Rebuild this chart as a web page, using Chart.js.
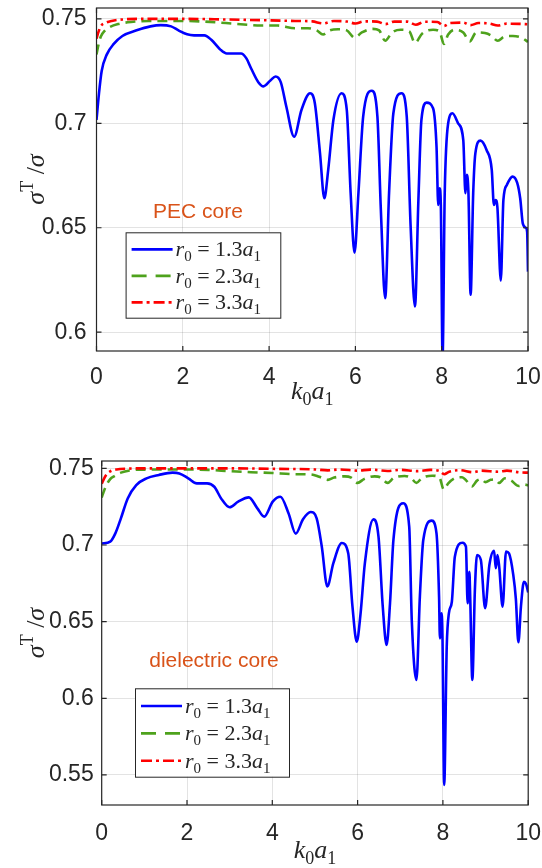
<!DOCTYPE html>
<html>
<head>
<meta charset="utf-8">
<script src="https://cdn.jsdelivr.net/npm/chart.js@4.4.1/dist/chart.umd.min.js"></script>
<style>
  body { margin: 0; background: #fff; }
  #wrap { position: relative; width: 542px; height: 868px; }
  canvas { position: absolute; left: 0; }
</style>
</head>
<body>
<div id="wrap">
  <canvas id="topChart" width="542" height="430" style="top:0;width:542px;height:430px"></canvas>
  <canvas id="bottomChart" width="542" height="438" style="top:430px;width:542px;height:438px"></canvas>
</div>
<script>
// tick values
const xTicks = [0, 2, 4, 6, 8, 10];
const topYTicks = [0.6, 0.65, 0.7, 0.75];
const bottomYTicks = [0.55, 0.6, 0.65, 0.7, 0.75];

// series names (r0 in units of a1) and panel notes
const radii = ['1.3', '2.3', '3.3'];
const seriesLabels = radii.map(r => 'r0 = ' + r + 'a1');
const panelNotes = ['PEC core', 'dielectric core'];

// [k0*a1, sigmaT/sigma] -- PEC core
const pecR13 = [[0,0.7016],[0.056,0.714],[0.12,0.725],[0.24,0.733],[0.4,0.738],[0.6,0.7418],[0.93,0.7445],
  [1.25,0.7464],[1.49,0.747],[1.73,0.7464],[1.9,0.7445],[2.1,0.7426],[2.26,0.7421],[2.5,0.7421],[2.66,0.740],
  [2.86,0.7355],[3.02,0.7334],[3.35,0.7334],[3.47,0.7312],[3.59,0.726],[3.75,0.7197],[3.87,0.7177],[4.03,0.7205],
  [4.15,0.7224],[4.27,0.7197],[4.4,0.7079],[4.58,0.6936],[4.75,0.7064],[4.95,0.7144],[5.06,0.7096],[5.18,0.6856],
  [5.28,0.6641],[5.37,0.6777],[5.49,0.7016],[5.68,0.7144],[5.8,0.7064],[5.89,0.6665],[5.98,0.6381],[6.07,0.6665],
  [6.18,0.7032],[6.38,0.7156],[6.51,0.7032],[6.59,0.6585],[6.69,0.6163],[6.78,0.6665],[6.88,0.7048],[7.07,0.7144],
  [7.19,0.7032],[7.28,0.6506],[7.38,0.6123],[7.46,0.6633],[7.53,0.7016],[7.65,0.7099],[7.8,0.7072],[7.88,0.6888],
  [7.92,0.6609],[7.95,0.6689],[7.98,0.6609],[8.02,0.588],[8.07,0.6665],[8.15,0.70],[8.25,0.7048],[8.38,0.70],
  [8.5,0.692],[8.55,0.6665],[8.58,0.6753],[8.62,0.6665],[8.67,0.6179],[8.73,0.6665],[8.78,0.6856],[8.9,0.6917],
  [9.04,0.6872],[9.16,0.6777],[9.21,0.6609],[9.25,0.6633],[9.29,0.660],[9.37,0.6247],[9.43,0.6633],[9.51,0.6705],
  [9.64,0.6745],[9.75,0.6715],[9.82,0.664],[9.88,0.652],[9.95,0.650],[9.98,0.648],[10,0.629]];
const pecR23 = [[0,0.733],[0.05,0.738],[0.1,0.7415],[0.2,0.7445],[0.3,0.746],[0.5,0.7475],[0.8,0.7485],[1.2,0.749],
  [2.0,0.749],[2.5,0.7487],[3.0,0.748],[3.5,0.7472],[3.8,0.7468],[4.2,0.7468],[4.6,0.7455],[4.9,0.7455],[5.1,0.7445],
  [5.25,0.7425],[5.4,0.7445],[5.6,0.745],[5.8,0.7445],[5.98,0.741],[6.15,0.7435],[6.4,0.7452],[6.55,0.7445],
  [6.69,0.7395],[6.85,0.7435],[7.05,0.7448],[7.25,0.744],[7.38,0.7385],[7.55,0.743],[7.8,0.7448],[7.95,0.744],
  [8.05,0.738],[8.15,0.7425],[8.3,0.7448],[8.5,0.7435],[8.65,0.7392],[8.8,0.7435],[9.0,0.7432],[9.15,0.742],
  [9.3,0.7395],[9.45,0.7415],[9.65,0.7418],[9.85,0.741],[10,0.739]];
const pecR33 = [[0,0.7405],[0.05,0.744],[0.1,0.7465],[0.2,0.748],[0.35,0.749],[0.6,0.7497],[1,0.75],[2,0.75],
  [3,0.7497],[4,0.7493],[4.6,0.749],[5.0,0.7488],[5.25,0.7478],[5.5,0.749],[5.8,0.7487],[6.0,0.7478],[6.2,0.7488],
  [6.5,0.7487],[6.7,0.7475],[6.9,0.7487],[7.2,0.7487],[7.4,0.7472],[7.6,0.7486],[7.9,0.7485],[8.05,0.7466],
  [8.2,0.748],[8.5,0.7482],[8.67,0.747],[8.85,0.748],[9.1,0.7478],[9.3,0.7468],[9.5,0.7477],[9.8,0.7476],[10,0.7474]];

// dielectric core
const dieR13 = [[0,0.701],[0.2,0.7022],[0.32,0.7076],[0.45,0.7174],[0.61,0.7304],[0.81,0.7391],[1.05,0.7435],
  [1.34,0.7457],[1.66,0.7472],[1.82,0.7467],[2.03,0.7435],[2.23,0.7402],[2.47,0.7402],[2.64,0.738],[2.8,0.7304],
  [3.0,0.7246],[3.2,0.7283],[3.45,0.7311],[3.65,0.7239],[3.81,0.7185],[4.01,0.7283],[4.19,0.7315],[4.38,0.7207],
  [4.55,0.7074],[4.72,0.7168],[4.9,0.7215],[5.04,0.7174],[5.16,0.699],[5.29,0.673],[5.43,0.688],[5.63,0.7013],
  [5.78,0.6946],[5.88,0.6598],[5.98,0.637],[6.07,0.6554],[6.17,0.688],[6.37,0.7167],[6.49,0.7054],[6.59,0.6598],
  [6.68,0.6348],[6.76,0.662],[6.84,0.7033],[7.07,0.7272],[7.21,0.712],[7.27,0.6511],[7.38,0.612],[7.46,0.6663],
  [7.54,0.7033],[7.74,0.7159],[7.85,0.7076],[7.91,0.6663],[7.93,0.6391],[7.97,0.6554],[7.99,0.6402],[8.03,0.5435],
  [8.09,0.6337],[8.14,0.6554],[8.21,0.663],[8.28,0.6924],[8.46,0.7015],[8.54,0.699],[8.58,0.662],[8.62,0.6826],
  [8.64,0.6663],[8.69,0.612],[8.75,0.6707],[8.8,0.6935],[8.89,0.6902],[8.99,0.6587],[9.09,0.687],[9.2,0.6963],
  [9.24,0.6848],[9.28,0.6935],[9.32,0.6859],[9.4,0.6598],[9.48,0.6957],[9.55,0.6945],[9.65,0.6805],[9.71,0.665],
  [9.77,0.6366],[9.83,0.66],[9.9,0.676],[9.95,0.6745],[10,0.669]];
const dieR23 = [[0,0.731],[0.05,0.735],[0.1,0.7385],[0.2,0.743],[0.3,0.745],[0.45,0.7472],[0.7,0.7488],[1.0,0.7492],
  [2.0,0.7493],[2.5,0.749],[3.0,0.7482],[3.5,0.7475],[4.0,0.747],[4.5,0.7462],[4.9,0.746],[5.1,0.7445],[5.3,0.7425],
  [5.45,0.744],[5.7,0.7448],[5.85,0.744],[6.0,0.7405],[6.15,0.743],[6.4,0.7448],[6.55,0.744],[6.7,0.7405],
  [6.85,0.7438],[7.1,0.745],[7.25,0.7438],[7.38,0.7405],[7.5,0.7435],[7.75,0.7452],[7.92,0.744],[8.02,0.7362],
  [8.12,0.740],[8.3,0.7438],[8.45,0.7442],[8.55,0.742],[8.68,0.7382],[8.8,0.742],[8.9,0.743],[9.0,0.741],
  [9.12,0.7425],[9.22,0.7428],[9.32,0.7405],[9.45,0.7435],[9.6,0.742],[9.78,0.7385],[9.9,0.7395],[10,0.739]];
const dieR33 = [[0,0.74],[0.05,0.743],[0.1,0.7455],[0.2,0.748],[0.35,0.7493],[0.6,0.7498],[1,0.75],[3,0.75],
  [4,0.7497],[5,0.7493],[5.3,0.7487],[5.6,0.7493],[6.0,0.7485],[6.3,0.7492],[6.7,0.7483],[7.0,0.749],[7.4,0.7482],
  [7.7,0.749],[7.9,0.7485],[8.03,0.7462],[8.15,0.7478],[8.4,0.7488],[8.7,0.7475],[8.9,0.7485],[9.3,0.7478],
  [9.5,0.7485],[9.8,0.7474],[10,0.7472]];

const AXIS = '#262626';
const SERIF = '"Liberation Serif", "DejaVu Serif", serif';

// draws a string made of pieces: 'i' italic, 'n' upright, 'b' subscript, 'p' superscript
function drawRich(ctx, parts, x, y, size, align) {
  const fontOf = k => (k === 'i' ? 'italic ' : '') + ((k === 'b' || k === 'p') ? Math.round(size * 0.7) : size) + 'px ' + SERIF;
  let w = 0;
  parts.forEach(([t, k]) => { ctx.font = fontOf(k); w += ctx.measureText(t).width; });
  let cx = align === 'center' ? x - w / 2 : x;
  ctx.textAlign = 'left';
  ctx.textBaseline = 'alphabetic';
  parts.forEach(([t, k]) => {
    ctx.font = fontOf(k);
    const dy = k === 'b' ? size * 0.22 : (k === 'p' ? -size * 0.42 : 0);
    ctx.fillText(t, cx, y + dy);
    cx += ctx.measureText(t).width;
  });
}

function series(pairs) {
  return pairs.map(p => ({ x: p[0], y: p[1] }));
}

function makeChart(id, sets, yTicks, cfg) {
  const styles = [
    { borderColor: '#0000ff', borderDash: [] },
    { borderColor: '#4ea21c', borderDash: [10, 6] },
    { borderColor: '#ff0000', borderDash: [10, 4, 2.5, 4] }
  ];
  const datasets = sets.map((s, i) => ({
    label: seriesLabels[i],
    data: series(s),
    borderColor: styles[i].borderColor,
    borderDash: styles[i].borderDash,
    borderWidth: 2.6,
    borderJoinStyle: 'round',
    pointRadius: 0,
    fill: false,
    cubicInterpolationMode: 'monotone'
  })).reverse();

  const decorations = {
    id: 'decor',
    afterDatasetsDraw(chart) {
      const { ctx, chartArea: a, scales } = chart;
      ctx.save();
      // box + inward ticks
      ctx.strokeStyle = AXIS;
      ctx.lineWidth = 1.2;
      ctx.strokeRect(a.left, a.top, a.right - a.left, a.bottom - a.top);
      ctx.beginPath();
      xTicks.forEach(v => {
        const px = scales.x.getPixelForValue(v);
        ctx.moveTo(px, a.bottom); ctx.lineTo(px, a.bottom - 5);
        ctx.moveTo(px, a.top); ctx.lineTo(px, a.top + 5);
      });
      yTicks.forEach(v => {
        const py = scales.y.getPixelForValue(v);
        ctx.moveTo(a.left, py); ctx.lineTo(a.left + 5, py);
        ctx.moveTo(a.right, py); ctx.lineTo(a.right - 5, py);
      });
      ctx.stroke();

      // legend
      const L = cfg.legend;
      ctx.fillStyle = '#fff';
      ctx.fillRect(L.x, L.y, L.w, L.h);
      ctx.lineWidth = 1;
      ctx.strokeStyle = AXIS;
      ctx.strokeRect(L.x + 0.5, L.y + 0.5, L.w, L.h);
      radii.forEach((r, i) => {
        const yy = L.y + L.h * (0.2 + 0.31 * i);
        ctx.beginPath();
        ctx.strokeStyle = styles[i].borderColor;
        ctx.lineWidth = 2.6;
        ctx.setLineDash(styles[i].borderDash.length ? (i === 1 ? [15, 9] : [11, 4, 3, 4]) : []);
        ctx.moveTo(L.x + 6, yy); ctx.lineTo(L.x + 47, yy);
        ctx.stroke();
        ctx.setLineDash([]);
        ctx.fillStyle = AXIS;
        drawRich(ctx, [['r', 'i'], ['0', 'b'], [' = ' + r, 'n'], ['a', 'i'], ['1', 'b']], L.x + 50, yy + 7, 22, 'left');
      });

      // panel note
      ctx.fillStyle = '#d95319';
      ctx.font = '21px "Liberation Sans", Arial, sans-serif';
      ctx.textAlign = 'center';
      ctx.textBaseline = 'middle';
      ctx.fillText(cfg.note, cfg.noteX, cfg.noteY);

      // axis titles
      ctx.fillStyle = AXIS;
      drawRich(ctx, [['k', 'i'], ['0', 'b'], ['a', 'i'], ['1', 'b']], (a.left + a.right) / 2, cfg.xTitleY, 26, 'center');
      ctx.save();
      ctx.translate(cfg.yTitleX, (a.top + a.bottom) / 2);
      ctx.rotate(-Math.PI / 2);
      drawRich(ctx, [['σ', 'i'], ['T', 'p'], [' /', 'n'], ['σ', 'i']], 0, 0, 26, 'center');
      ctx.restore();
      ctx.restore();
    }
  };

  return new Chart(document.getElementById(id), {
    type: 'line',
    data: { datasets },
    options: {
      responsive: false,
      animation: false,
      layout: { padding: { left: 0, right: cfg.padRight, top: cfg.padTop, bottom: 0 } },
      plugins: { legend: { display: false }, tooltip: { enabled: false } },
      scales: {
        x: {
          type: 'linear',
          min: 0,
          max: 10,
          afterBuildTicks: s => { s.ticks = xTicks.map(v => ({ value: v })); },
          afterFit: s => { s.height = cfg.xHeight; s.paddingLeft = 0; s.paddingRight = 0; },
          grid: { color: 'rgba(38,38,38,0.13)', drawTicks: false },
          border: { display: false },
          ticks: {
            color: AXIS,
            padding: cfg.xPad,
            maxRotation: 0,
            font: { family: '"Liberation Sans", Arial, sans-serif', size: 23 },
            callback: v => String(v)
          }
        },
        y: {
          type: 'linear',
          min: cfg.yMin,
          max: cfg.yMax,
          afterBuildTicks: s => { s.ticks = yTicks.map(v => ({ value: v })); },
          afterFit: s => { s.width = cfg.yWidth; s.paddingTop = 0; s.paddingBottom = 0; },
          grid: { color: 'rgba(38,38,38,0.13)', drawTicks: false },
          border: { display: false },
          ticks: {
            color: AXIS,
            padding: cfg.yPad,
            font: { family: '"Liberation Sans", Arial, sans-serif', size: 23 },
            callback: v => String(v)
          }
        }
      }
    },
    plugins: [decorations]
  });
}

makeChart('topChart', [pecR13, pecR23, pecR33], topYTicks, {
  yMin: 0.591, yMax: 0.7552, padTop: 8, padRight: 14, xHeight: 79, yWidth: 96.5,
  xPad: 13, yPad: 10, xTitleY: 399, yTitleX: 44,
  note: panelNotes[0], noteX: 198, noteY: 212,
  legend: { x: 125.6, y: 232.3, w: 154.7, h: 85.4 }
});

makeChart('bottomChart', [dieR13, dieR23, dieR33], bottomYTicks, {
  yMin: 0.5304, yMax: 0.7548, padTop: 31, padRight: 13.8, xHeight: 63, yWidth: 101.7,
  xPad: 14.5, yPad: 8, xTitleY: 428, yTitleX: 44,
  note: panelNotes[1], noteX: 214, noteY: 231,
  legend: { x: 135, y: 258.3, w: 154, h: 88.4 }
});
</script>
</body>
</html>
